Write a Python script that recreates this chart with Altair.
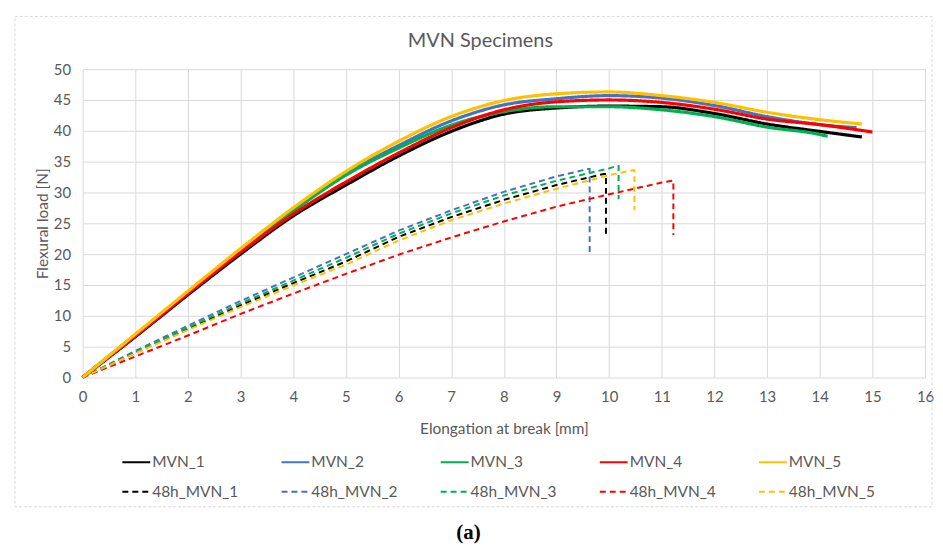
import altair as alt
import pandas as pd

FONT = "Lato"
GREY = "#595959"

series_names = ["MVN_1", "MVN_2", "MVN_3", "MVN_4", "MVN_5",
                "48h_MVN_1", "48h_MVN_2", "48h_MVN_3", "48h_MVN_4", "48h_MVN_5"]
series_colors = ["#000000", "#4472C4", "#00B050", "#FF0000", "#FFC000",
                 "#000000", "#4472C4", "#00B050", "#FF0000", "#FFC000"]
series_dash = [[1, 0]] * 5 + [[6, 4]] * 5

# --- solid curves (fresh specimens)
mvn1_x = [0, 1, 2, 3, 4, 5, 6, 7, 8, 9, 10, 11, 12, 13, 14, 14.8]
mvn1_y = [0, 6.6, 13.4, 20.0, 26.2, 31.2, 35.9, 39.9, 42.7, 43.7, 44.0, 43.9, 42.8, 41.1, 39.9, 39.0]
mvn2_x = [0, 1, 2, 3, 4, 5, 6, 7, 8, 9, 10, 11, 12, 13, 14, 14.7]
mvn2_y = [0, 6.9, 13.8, 20.6, 27.1, 33.0, 37.6, 41.6, 44.2, 45.2, 45.7, 45.3, 44.1, 42.3, 41.0, 40.5]
mvn3_x = [0, 1, 2, 3, 4, 5, 6, 7, 8, 9, 10, 11, 12, 13, 14, 14.15]
mvn3_y = [0, 6.9, 13.8, 20.6, 27.0, 32.8, 37.2, 40.9, 43.1, 43.9, 43.9, 43.4, 42.3, 40.6, 39.4, 39.1]
mvn4_x = [0, 1, 2, 3, 4, 5, 6, 7, 8, 9, 10, 11, 12, 13, 14, 15.0]
mvn4_y = [0, 6.7, 13.6, 20.3, 26.5, 31.7, 36.4, 40.5, 43.4, 44.7, 45.0, 44.6, 43.5, 41.9, 41.0, 39.8]
mvn5_x = [0, 1, 2, 3, 4, 5, 6, 7, 8, 9, 10, 11, 12, 13, 14, 14.8]
mvn5_y = [0, 7.0, 14.0, 20.9, 27.5, 33.4, 38.3, 42.3, 44.9, 46.0, 46.3, 45.7, 44.6, 43.0, 41.8, 41.1]

# --- dashed curves (48 h specimens), ending with the break drop
h48_1_x = [0, 1, 2, 3, 4, 5, 6, 7, 8, 9, 9.9, 9.94, 9.94]
h48_1_y = [0, 4.0, 7.9, 11.7, 15.3, 18.8, 22.8, 26.0, 28.8, 31.2, 33.0, 33.0, 22.9]
h48_2_x = [0, 1, 2, 3, 4, 5, 6, 7, 8, 9, 9.6, 9.63, 9.63]
h48_2_y = [0, 4.3, 8.4, 12.4, 16.2, 20.0, 23.8, 27.1, 30.1, 32.6, 33.8, 33.8, 20.2]
h48_3_x = [0, 1, 2, 3, 4, 5, 6, 7, 8, 9, 10, 10.15, 10.18, 10.18]
h48_3_y = [0, 4.1, 8.1, 12.0, 15.7, 19.4, 23.3, 26.6, 29.5, 31.9, 33.9, 34.3, 34.3, 28.9]
h48_4_x = [0, 1, 2, 3, 4, 5, 6, 7, 8, 9, 10, 11, 11.2, 11.22, 11.22]
h48_4_y = [0, 3.4, 6.8, 10.3, 13.6, 16.8, 19.9, 22.7, 25.3, 27.7, 29.7, 31.6, 31.9, 31.9, 23.1]
h48_5_x = [0, 1, 2, 3, 4, 5, 6, 7, 8, 9, 10, 10.45, 10.48, 10.48]
h48_5_y = [0, 3.9, 7.7, 11.4, 14.9, 18.3, 22.2, 25.5, 28.2, 30.6, 32.8, 33.6, 33.6, 27.1]

all_x = [mvn1_x, mvn2_x, mvn3_x, mvn4_x, mvn5_x, h48_1_x, h48_2_x, h48_3_x, h48_4_x, h48_5_x]
all_y = [mvn1_y, mvn2_y, mvn3_y, mvn4_y, mvn5_y, h48_1_y, h48_2_y, h48_3_y, h48_4_y, h48_5_y]

rows = []
for name, xs, ys in zip(series_names, all_x, all_y):
    for i, (xv, yv) in enumerate(zip(xs, ys)):
        rows.append({"series": name, "x": xv, "y": yv, "idx": i,
                     "kind": "dash" if name.startswith("48h") else "solid"})
df = pd.DataFrame(rows)

x_ticks = list(range(0, 17))
y_ticks = list(range(0, 51, 5))

color_scale = alt.Scale(domain=series_names, range=series_colors)
dash_scale = alt.Scale(domain=series_names, range=series_dash)

legend = alt.Legend(
    title=None, orient="none", legendX=39, legendY=380, columns=5,
    direction="horizontal", symbolType="stroke", symbolSize=784,
    symbolStrokeWidth=2, labelFont=FONT, labelFontSize=15.5, labelColor=GREY,
    labelOffset=1, columnPadding=39, rowPadding=6, padding=0,
    gridAlign="all",
)

x_enc = alt.X("x:Q", scale=alt.Scale(domain=[0, 16], nice=False),
              axis=alt.Axis(values=x_ticks, title="Elongation at break [mm]", format="d"))
y_enc = alt.Y("y:Q", scale=alt.Scale(domain=[0, 50], nice=False),
              axis=alt.Axis(values=y_ticks, title="Flexural load [N]", format="d"))

base = alt.Chart(df)

dashed = base.transform_filter(alt.datum.kind == "dash").mark_line(
    strokeWidth=2, interpolate="linear"
).encode(
    x=x_enc, y=y_enc,
    color=alt.Color("series:N", scale=color_scale, legend=legend),
    strokeDash=alt.StrokeDash("series:N", scale=dash_scale, legend=legend),
    order=alt.Order("idx:Q"),
)

solid = base.transform_filter(alt.datum.kind == "solid").mark_line(
    strokeWidth=3.2, interpolate="monotone"
).encode(
    x=x_enc, y=y_enc,
    color=alt.Color("series:N", scale=color_scale, legend=legend),
    strokeDash=alt.StrokeDash("series:N", scale=dash_scale, legend=legend),
    order=alt.Order("idx:Q"),
)

title_df = pd.DataFrame({"t": ["MVN Specimens"]})
title = alt.Chart(title_df).mark_text(
    font=FONT, fontSize=20, color=GREY, baseline="middle", align="center"
).encode(x=alt.value(400), y=alt.value(-28), text="t:N")

cap_df = pd.DataFrame({"t": ["(a)"]})
caption = alt.Chart(cap_df).mark_text(
    font="Liberation Serif", fontSize=21, fontWeight="bold", color="#000000",
    baseline="middle", align="center"
).encode(x=alt.value(388), y=alt.value(466), text="t:N")

box_df = pd.DataFrame({"b": [1]})
box = alt.Chart(box_df).mark_rect(
    fillOpacity=0, stroke="#d9d9d9", strokeWidth=1, strokeDash=[3, 2]
).encode(x=alt.value(-68), x2=alt.value(854), y=alt.value(-53), y2=alt.value(440))

chart = alt.layer(box, dashed, solid, title, caption).properties(
    width=847, height=310,
    autosize=alt.AutoSizeParams(type="none"),
    padding={"left": 75, "top": 60, "right": 10, "bottom": 170},
).configure_view(stroke=None).configure_axis(
    gridColor="#d9d9d9", gridWidth=1, domainColor="#d9d9d9", domain=False,
    ticks=False, labelFlush=False, labelFont=FONT, labelFontSize=15, labelColor=GREY,
    titleFont=FONT, titleFontSize=15.5, titleColor=GREY, titleFontWeight="normal",
).configure_axisX(labelPadding=12, titlePadding=17).configure_axisY(labelPadding=12, titlePadding=3)

chart.save("out.html", embed_options={"renderer": "svg", "actions": False})
